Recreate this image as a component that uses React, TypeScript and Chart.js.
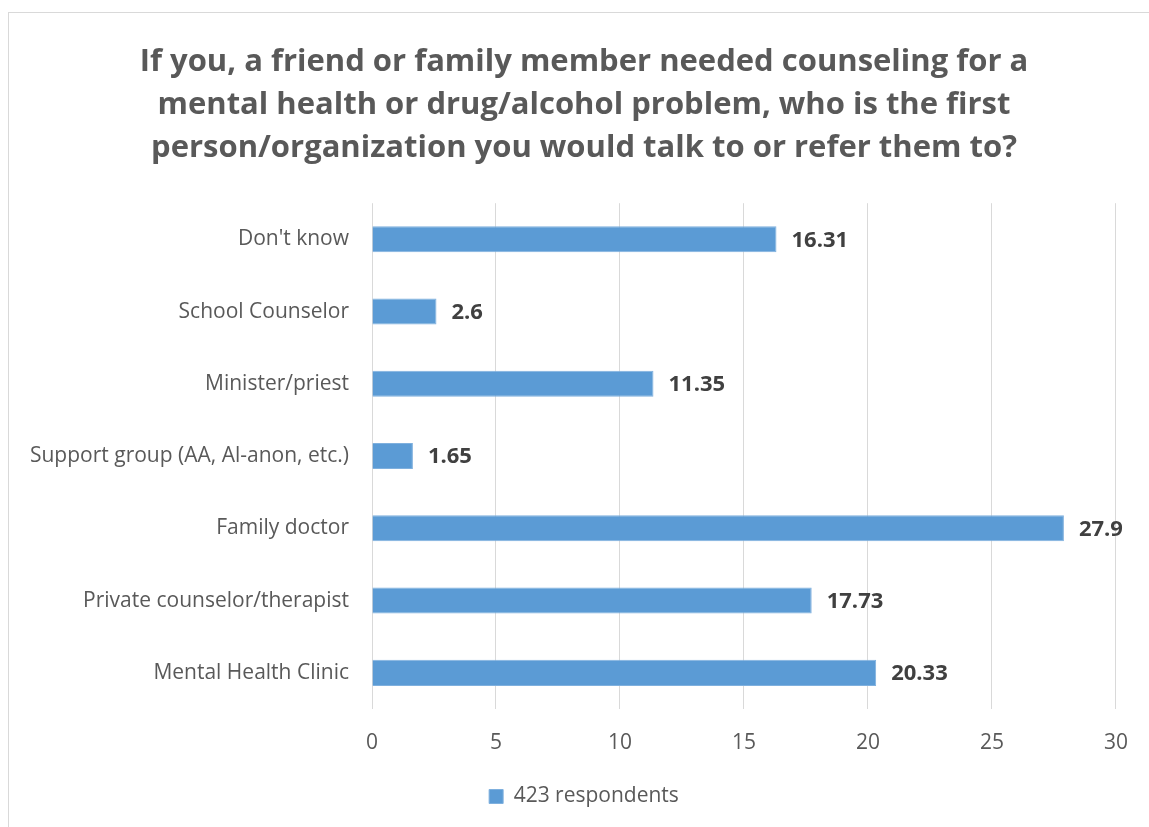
import React, { useEffect, useRef } from "react";
import { Chart, registerables } from "chart.js";

Chart.register(...registerables);

const titleLines = [
  "If you, a friend or family member needed counseling for a",
  "mental health or drug/alcohol problem, who is the first",
  "person/organization you would talk to or refer them to?",
];
const categories = [
  "Don't know",
  "School Counselor",
  "Minister/priest",
  "Support group (AA, Al-anon, etc.)",
  "Family doctor",
  "Private counselor/therapist",
  "Mental Health Clinic",
];
const values = [16.31, 2.6, 11.35, 1.65, 27.9, 17.73, 20.33];
const seriesName = "423 respondents";
const xMin = 0;
const xMax = 30;
const xStep = 5;

const FONT = "'Open Sans', 'DejaVu Sans', sans-serif";
const TEXT = "#595959";

const valueLabels = {
  id: "valueLabels",
  afterDatasetsDraw(chart: any) {
    const ctx = chart.ctx;
    const meta = chart.getDatasetMeta(0);
    ctx.save();
    ctx.font = `bold 22px ${FONT}`;
    ctx.fillStyle = "#404040";
    ctx.textAlign = "left";
    ctx.textBaseline = "middle";
    meta.data.forEach((bar: any, i: number) => {
      const v = chart.data.datasets[0].data[i];
      ctx.fillText(String(v), bar.x + 15, bar.y + 1);
    });
    ctx.restore();
  },
};

export default function App() {
  const ref = useRef<HTMLCanvasElement | null>(null);
  useEffect(() => {
    document.body.style.margin = "0";
    document.body.style.overflow = "hidden";
    const chart = new Chart(ref.current as HTMLCanvasElement, {
      type: "bar",
      data: {
        labels: categories,
        datasets: [
          {
            label: seriesName,
            data: values,
            backgroundColor: "#5b9bd5",
            borderColor: "#7fb0de",
            borderWidth: 1,
            categoryPercentage: 1,
            barPercentage: 0.36,
          },
        ],
      },
      options: {
        indexAxis: "y",
        animation: false,
        responsive: false,
        maintainAspectRatio: false,
        layout: { padding: { left: 10, right: 0, top: 0, bottom: 10 } },
        plugins: {
          title: {
            display: true,
            text: titleLines,
            color: TEXT,
            font: { family: FONT, size: 31, weight: "bold", lineHeight: 1.4 },
            padding: { top: 27, bottom: 33 },
          },
          legend: {
            display: true,
            position: "bottom",
            labels: {
              color: TEXT,
              font: { family: FONT, size: 21 },
              boxWidth: 14,
              boxHeight: 14,
              padding: 10,
            },
          },
          tooltip: { enabled: false },
        },
        scales: {
          x: {
            min: xMin,
            max: xMax,
            ticks: { stepSize: xStep, color: TEXT, font: { family: FONT, size: 21 }, padding: 21 },
            grid: { color: "#d9d9d9", lineWidth: 1, drawTicks: false },
            border: { display: false },
            afterFit: (s: any) => {
              s.height = 67;
            },
          },
          y: {
            ticks: { color: TEXT, font: { family: FONT, size: 21 }, padding: 23 },
            grid: { display: false, drawTicks: false },
            border: { display: false },
            afterFit: (s: any) => {
              s.width = 353;
            },
          },
          y2: {
            type: "category",
            position: "right",
            display: true,
            ticks: { display: false },
            grid: { display: false, drawTicks: false },
            border: { display: false },
            afterFit: (s: any) => {
              s.width = 31;
            },
          },
        },
      },
      plugins: [valueLabels],
    });
    return () => chart.destroy();
  }, []);
  return (
    <div
      style={{
        position: "absolute",
        left: 8,
        top: 12,
        width: 1141,
        height: 815,
        borderLeft: "1px solid #d9d9d9",
        borderTop: "1px solid #d9d9d9",
        background: "#fff",
      }}
    >
      <canvas ref={ref} width={1140} height={814} style={{ display: "block" }} />
    </div>
  );
}
